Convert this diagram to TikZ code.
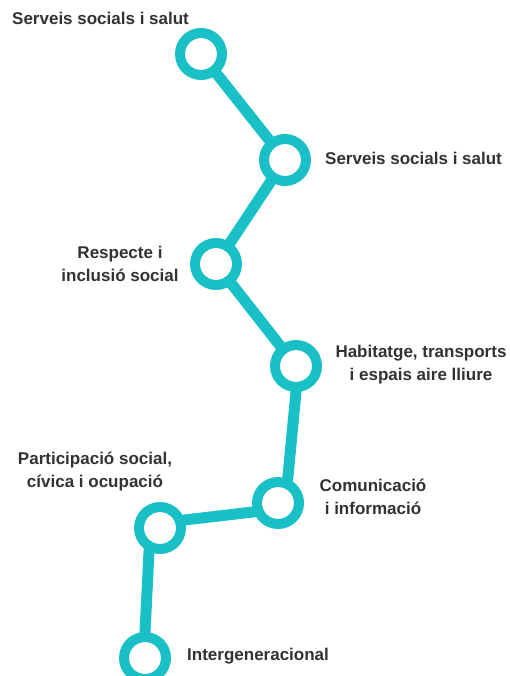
\documentclass[tikz,border=0pt]{standalone}
\usepackage{fontspec}
\setmainfont{Liberation Sans}
\usepackage{tikz}
\definecolor{ringteal}{RGB}{25,192,198}
\definecolor{labelgray}{RGB}{50,50,50}
\tikzset{
  station/.style={
    circle,draw=ringteal,line width=10pt,fill=white,minimum size=42pt,inner sep=0pt,
  },
  link/.style={
    draw=ringteal,line width=11pt,shorten <=-4pt,shorten >=-4pt,
  },
  lbl/.style={
    text=labelgray,inner sep=0pt,align=center,font=\fontsize{17}{23}\selectfont\bfseries,
  },
}

\begin{document}
\begin{tikzpicture}[x=1pt,y=-1pt]
      \useasboundingbox (0,0) rectangle (509,676);
      \node[station] (salut1) at (201,54) {};
      \node[station] (salut2) at (285,160) {};
      \node[station] (respecte) at (216,264) {};
      \node[station] (habitatge) at (296,366) {};
      \node[station] (comunicacio) at (278,503) {};
      \node[station] (participacio) at (160,528) {};
      \node[station] (intergen) at (145,658) {};

      \node[lbl,anchor=base west] (tsalut1) at (12,25) {Serveis socials i salut};
      \node[lbl,anchor=base west] (tsalut2) at (325,165) {Serveis socials i salut};
      \node[lbl] (trespecte) at (120,264) {Respecte i\\inclusió social};
      \node[lbl] (thabitatge) at (421,365) {Habitatge, transports\\i espais aire lliure};
      \node[lbl] (tparticipacio) at (95,472) {Participació social,\\cívica i ocupació};
      \node[lbl] (tcomunicacio) at (373,497) {Comunicació\\i informació};
      \node[lbl,anchor=base west] (tintergen) at (187,660) {Intergeneracional};

      \path (salut1) edge[link] (salut2);
      \path (salut2) edge[link] (respecte);
      \path (respecte) edge[link] (habitatge);
      \path (habitatge.270) edge[link] (comunicacio.68);
      \path (comunicacio.200) edge[link] (participacio.18);
      \path (participacio.245) edge[link] (intergen.north);
\end{tikzpicture}
\end{document}
